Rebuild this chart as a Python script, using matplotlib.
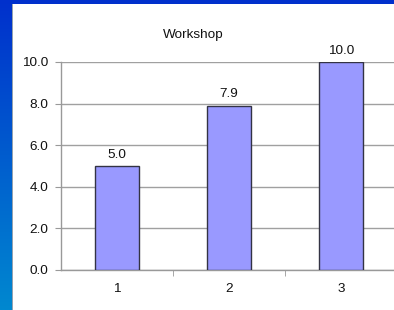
import numpy as np
import matplotlib
matplotlib.use("Agg")
import matplotlib.pyplot as plt
from matplotlib.colors import LinearSegmentedColormap

categories = ["1", "2", "3"]
values = [5.0, 7.9, 10.0]
yticks = [0.0, 2.0, 4.0, 6.0, 8.0, 10.0]
title = "Workshop"

plt.rcParams['font.family'] = ['Liberation Sans', 'DejaVu Sans']

W, H = 394, 310
fig = plt.figure(figsize=(W / 100, H / 100), dpi=100)
fig.patch.set_facecolor("white")

# blue background frame (left gradient band + top band)
bg = fig.add_axes([0, 0, 1, 1], zorder=-10)
bg.set_axis_off()
cmap = LinearSegmentedColormap.from_list("b", ["#0030cc", "#0088d0"])
grad = np.linspace(0, 1, 256).reshape(-1, 1)
bg.imshow(grad, aspect="auto", cmap=cmap, extent=[0, 12 / W, 0, 1], origin="upper")
bg.add_patch(plt.Rectangle((0, 1 - 4 / H), 1, 4 / H, color="#0030cc", lw=0))
bg.plot([12 / W, 12 / W], [0, 1 - 4 / H], color="#8090a0", lw=0.6)
bg.set_xlim(0, 1)
bg.set_ylim(0, 1)

fs = 9.7
ax = fig.add_axes([61 / W, (H - 270) / H, 336 / W, 208 / H])
ax.set_facecolor("white")
x = np.arange(len(categories))
bars = ax.bar(x, values, width=0.4, color="#9999ff", edgecolor="#333344", linewidth=1, zorder=3)
for xi, v in zip(x, values):
    ax.text(xi, v + 0.25, f"{v:.1f}", ha="center", va="bottom", fontsize=fs, color="#111111")

ax.set_xlim(-0.5, 2.5)
ax.set_ylim(0, 10)
ax.set_yticks(yticks)
ax.set_yticklabels([f"{t:.1f}" for t in yticks])
ax.set_xticks(x)
ax.set_xticklabels(categories)
ax.set_xticks([0.5, 1.5], minor=True)
ax.tick_params(axis="x", which="major", length=0, pad=9, labelsize=fs, labelcolor="#111111")
ax.tick_params(axis="x", which="minor", length=4, color="#999999", direction="out")
ax.tick_params(axis="y", length=4, color="#999999", pad=5, labelsize=fs, labelcolor="#111111")
ax.yaxis.grid(True, color="#a0a0a0", linewidth=1)
ax.set_axisbelow(True)
for s in ["top", "right"]:
    ax.spines[s].set_visible(False)
for s in ["left", "bottom"]:
    ax.spines[s].set_color("#999999")
    ax.spines[s].set_linewidth(1)

fig.text(193 / W, 1 - 35 / H, title, ha="center", va="center", fontsize=fs, color="#111111")

fig.savefig("out.png", dpi=100)
